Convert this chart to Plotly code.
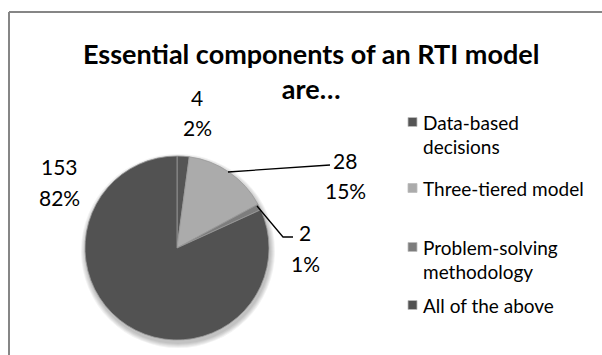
import plotly.graph_objects as go

# Survey responses
categories = ["Data-based decisions", "Three-tiered model",
              "Problem-solving methodology", "All of the above"]
legend_lines = [["Data-based", "decisions"], ["Three-tiered model"],
                ["Problem-solving", "methodology"], ["All of the above"]]
counts = [4, 28, 2, 153]
colors = ["#555555", "#ababab", "#7d7d7d", "#525252"]

W, H = 602, 355
FONT = "Lato, Calibri, Carlito, sans-serif"


def px(x):
    return x / W


def py(y):
    return 1 - y / H


total = sum(counts)
pct = [round(100 * c / total) for c in counts]

# Pie geometry (pixels)
cx, cy, r = 177, 248, 92

fig = go.Figure()
fig.add_trace(go.Pie(
    labels=categories,
    values=counts,
    sort=False,
    direction="clockwise",
    rotation=0,
    marker=dict(colors=colors, line=dict(color="#9a9a9a", width=0.8)),
    textinfo="none",
    hoverinfo="label+value+percent",
    domain=dict(x=[px(cx - r), px(cx + r)], y=[py(cy + r), py(cy - r)]),
    showlegend=False,
))

annotations = []
shapes = []

# Soft drop shadow under the pie
for k in range(5):
    rr = r + 1 + k
    shapes.append(dict(type="circle", xref="paper", yref="paper", layer="below",
                       x0=px(cx - rr + 1), x1=px(cx + rr + 1),
                       y0=py(cy + 3 + rr), y1=py(cy + 3 - rr),
                       fillcolor="rgba(0,0,0,0.05)", line=dict(width=0)))

# Chart frame (left and top edges of the chart area)
shapes.append(dict(type="line", xref="paper", yref="paper",
                   x0=px(9), y0=py(12), x1=px(9), y1=0,
                   line=dict(color="#868686", width=2)))
shapes.append(dict(type="line", xref="paper", yref="paper",
                   x0=px(9), y0=py(12), x1=1, y1=py(12),
                   line=dict(color="#868686", width=2)))

# Title
annotations.append(dict(
    text="<b>Essential components of an RTI model<br>are…</b>",
    x=px(311), y=py(71), xref="paper", yref="paper",
    xanchor="center", yanchor="middle", showarrow=False, align="center",
    font=dict(family=FONT, size=27, color="#000000"),
))

# Data labels: value on the first line, percentage on the second
label_pos = [(197, 97), (345, 160), (305, 232), (59, 166)]
line_gap = 31
for (lx, ly), c, p in zip(label_pos, counts, pct):
    for i, t in enumerate([f"{c}", f"{p}%"]):
        annotations.append(dict(
            text=t, x=px(lx), y=py(ly + i * line_gap), xref="paper", yref="paper",
            xanchor="center", yanchor="middle", showarrow=False, align="center",
            font=dict(family=FONT, size=21, color="#000000"),
        ))

# Leader lines
shapes.append(dict(type="path", xref="paper", yref="paper",
                   path=f"M {px(228)} {py(172)} L {px(330)} {py(165)}",
                   line=dict(color="#000000", width=1.3)))
shapes.append(dict(type="path", xref="paper", yref="paper",
                   path=f"M {px(257)} {py(206)} L {px(283)} {py(237)} L {px(293)} {py(237)}",
                   line=dict(color="#000000", width=1.3)))

# Legend
legend_y = [122, 188, 247, 305]
line_h = 24
for lines, col, ly in zip(legend_lines, colors, legend_y):
    shapes.append(dict(type="rect", xref="paper", yref="paper",
                       x0=px(408), x1=px(417), y0=py(ly + 4.5), y1=py(ly - 4.5),
                       fillcolor=col, line=dict(color="#bdbdbd", width=0.8)))
    for i, t in enumerate(lines):
        annotations.append(dict(
            text=t, x=px(421), y=py(ly + i * line_h), xref="paper", yref="paper",
            xanchor="left", yanchor="middle", showarrow=False, align="left",
            font=dict(family=FONT, size=19, color="#000000"),
        ))

fig.update_layout(
    width=W, height=H,
    margin=dict(l=0, r=0, t=0, b=0),
    paper_bgcolor="#ffffff",
    plot_bgcolor="#ffffff",
    annotations=annotations,
    shapes=shapes,
)

fig.write_html("out.html")
